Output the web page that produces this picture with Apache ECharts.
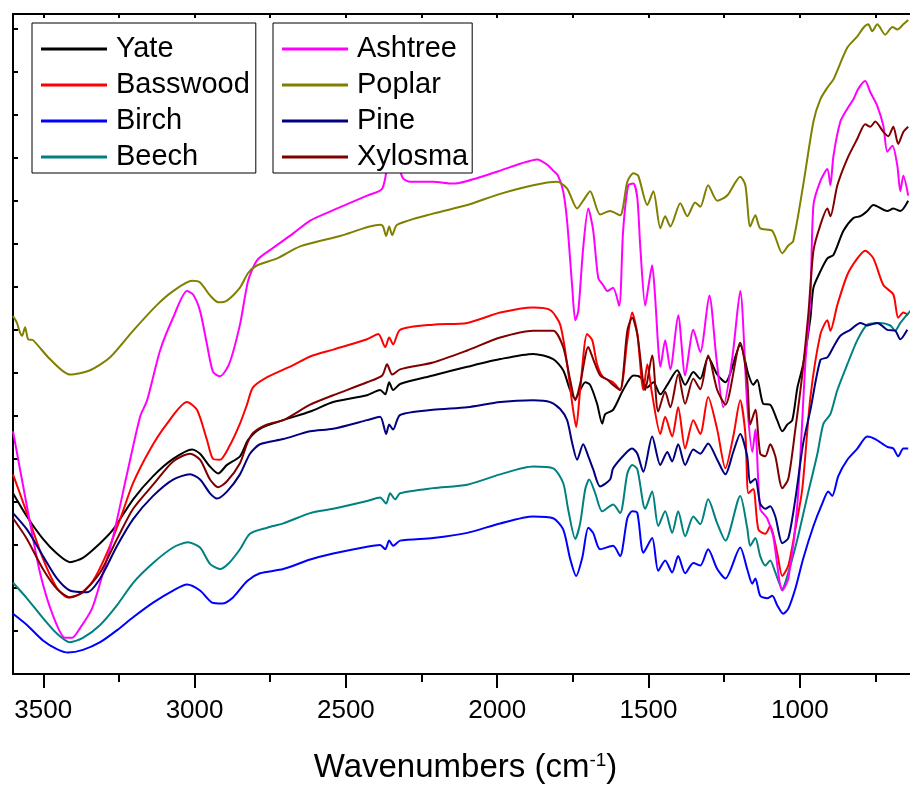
<!DOCTYPE html>
<html><head><meta charset="utf-8">
<script src="https://cdn.jsdelivr.net/npm/echarts@6/dist/echarts.min.js"></script>
<style>html,body{margin:0;padding:0;background:#fff}#c{width:910px;height:789px}</style>
</head><body><div id="c"></div>
<script>
// Wavenumber (cm-1) / transmittance-like values (arbitrary units)
const yate = [[3600,21.0],[3554,18.3],[3501,15.7],[3455,14.0],[3412,13.0],[3369,13.5],[3312,15.2],[3269,16.8],[3203,20.3],[3137,23.0],[3071,25.0],[3008,26.1],[2982,25.6],[2949,24.1],[2922,23.3],[2893,24.3],[2850,25.3],[2823,27.2],[2784,28.5],[2707,29.5],[2618,30.5],[2542,31.6],[2430,32.4],[2387,33.0],[2370,32.5],[2357,33.9],[2344,33.0],[2321,33.7],[2212,34.7],[2099,35.7],[1990,36.6],[1881,37.2],[1815,36.6],[1782,35.3],[1759,33.0],[1742,32.0],[1726,33.0],[1709,33.9],[1693,33.6],[1670,31.4],[1653,29.1],[1643,30.2],[1617,30.7],[1584,33.0],[1550,34.7],[1527,34.5],[1504,33.3],[1484,33.9],[1461,32.5],[1438,33.6],[1405,35.3],[1379,33.6],[1352,35.1],[1329,34.3],[1303,36.8],[1273,34.8],[1246,33.9],[1197,38.2],[1170,34.8],[1154,33.6],[1141,34.2],[1121,31.4],[1098,31.3],[1075,29.5],[1058,28.2],[1041,29.0],[1025,29.5],[1008,33.3],[989,36.0],[965,41.4],[955,44.9],[932,46.8],[909,48.3],[889,48.7],[856,51.5],[823,53.0],[800,53.2],[777,53.8],[757,54.5],[711,53.8],[691,54.1],[668,53.8],[642,55.0]];
const basswood = [[3600,23.2],[3554,18.7],[3501,13.4],[3455,10.0],[3418,8.9],[3379,9.3],[3336,10.8],[3289,14.1],[3246,18.0],[3203,22.2],[3147,26.1],[3091,29.1],[3025,31.6],[2992,30.7],[2959,27.2],[2939,25.0],[2916,24.9],[2886,26.4],[2850,29.1],[2826,31.4],[2807,33.3],[2760,34.5],[2674,35.9],[2618,36.9],[2542,37.7],[2430,38.9],[2393,39.5],[2370,38.0],[2357,39.1],[2344,38.3],[2321,40.0],[2212,40.6],[2099,40.8],[1990,42.0],[1881,42.6],[1825,42.3],[1792,40.6],[1769,36.0],[1752,31.4],[1739,28.7],[1726,33.0],[1703,39.5],[1686,38.8],[1670,36.0],[1650,34.5],[1617,33.9],[1594,33.0],[1570,38.8],[1554,42.0],[1537,39.5],[1517,33.0],[1504,36.0],[1488,32.5],[1461,27.9],[1445,29.9],[1422,27.6],[1402,31.0],[1379,26.2],[1352,29.5],[1329,27.9],[1303,32.2],[1273,28.4],[1246,23.9],[1220,27.6],[1197,31.8],[1180,27.9],[1170,21.0],[1154,21.5],[1137,16.8],[1114,16.3],[1098,17.2],[1075,14.1],[1058,11.4],[1038,12.6],[1015,16.8],[992,21.5],[965,32.2],[932,39.5],[909,41.1],[899,39.9],[876,42.9],[843,46.4],[810,48.3],[784,49.2],[757,48.3],[724,45.2],[691,44.1],[675,41.4],[658,42.0],[642,41.7]];
const birch = [[3600,7.0],[3554,5.7],[3501,3.9],[3455,2.9],[3418,2.5],[3369,2.8],[3312,3.7],[3256,5.1],[3203,6.6],[3137,8.3],[3071,9.7],[3025,10.4],[2982,9.7],[2942,8.3],[2909,8.2],[2873,8.9],[2826,10.8],[2784,11.7],[2707,12.2],[2618,13.3],[2542,14.0],[2430,14.8],[2387,15.0],[2370,14.5],[2357,15.5],[2344,14.9],[2321,15.5],[2212,15.8],[2099,16.4],[1990,17.5],[1881,18.3],[1815,18.1],[1782,16.8],[1759,13.4],[1739,11.4],[1719,13.5],[1699,17.0],[1683,16.4],[1660,14.5],[1617,14.9],[1594,13.7],[1570,18.1],[1554,18.9],[1537,18.7],[1517,14.1],[1488,15.8],[1468,12.0],[1445,13.2],[1422,11.8],[1402,13.7],[1379,11.7],[1352,12.9],[1329,12.6],[1303,14.5],[1273,12.2],[1246,11.1],[1197,14.7],[1174,12.2],[1157,10.5],[1147,11.1],[1131,9.1],[1108,8.8],[1091,9.1],[1075,8.0],[1055,7.0],[1038,7.6],[1015,9.9],[989,13.4],[955,17.2],[926,19.8],[906,21.2],[893,20.7],[873,23.0],[843,24.9],[810,26.2],[777,27.6],[751,27.3],[711,26.4],[691,26.2],[675,25.3],[658,26.2],[642,26.2]];
const beech = [[3600,10.6],[3554,8.8],[3501,6.5],[3455,4.7],[3412,3.7],[3369,4.2],[3312,5.7],[3256,8.0],[3203,10.6],[3137,12.9],[3071,14.7],[3022,15.3],[2982,14.7],[2949,12.8],[2916,12.2],[2886,12.9],[2850,14.5],[2817,16.3],[2760,17.0],[2707,17.5],[2618,18.7],[2542,19.2],[2430,20.1],[2387,20.5],[2367,19.8],[2354,21.0],[2337,20.3],[2321,21.0],[2212,21.6],[2099,22.0],[1990,23.2],[1881,24.1],[1815,23.9],[1782,22.2],[1766,19.2],[1742,15.7],[1726,17.5],[1709,21.5],[1696,22.6],[1676,21.0],[1653,18.9],[1617,19.7],[1594,18.7],[1570,23.3],[1554,24.3],[1537,23.8],[1511,19.2],[1488,21.2],[1468,17.2],[1445,18.9],[1422,16.4],[1402,18.9],[1379,16.0],[1352,18.3],[1329,17.4],[1303,20.3],[1273,17.5],[1246,15.5],[1197,20.7],[1174,17.0],[1164,14.9],[1147,15.8],[1131,13.7],[1114,12.6],[1098,13.2],[1081,11.8],[1058,9.9],[1038,11.8],[1008,15.7],[975,20.7],[942,25.6],[922,29.1],[899,30.2],[876,33.0],[843,36.0],[810,38.8],[777,40.6],[734,40.8],[701,40.5],[685,39.9],[668,40.8],[635,42.2]];
const ashtree = [[3600,28.2],[3554,19.5],[3511,11.8],[3468,6.8],[3428,4.2],[3405,4.2],[3379,5.3],[3339,7.6],[3312,10.6],[3269,16.0],[3223,23.3],[3180,29.9],[3157,31.8],[3114,37.6],[3071,41.4],[3025,44.5],[3005,44.1],[2982,42.2],[2959,38.3],[2939,35.1],[2916,34.6],[2886,36.0],[2850,40.6],[2823,45.7],[2793,48.1],[2741,49.5],[2674,51.2],[2618,52.7],[2542,53.9],[2430,55.6],[2380,56.4],[2357,59.9],[2337,60.1],[2321,58.5],[2311,57.6],[2288,57.2],[2212,57.2],[2146,57.0],[2099,57.3],[1990,58.5],[1924,59.3],[1868,59.8],[1835,59.2],[1815,58.5],[1799,57.9],[1782,56.1],[1769,52.6],[1752,44.9],[1742,41.1],[1732,42.2],[1716,49.5],[1699,54.1],[1683,51.6],[1666,46.0],[1650,45.2],[1636,44.5],[1617,44.9],[1597,42.8],[1584,51.5],[1567,56.8],[1550,57.0],[1537,55.3],[1527,49.5],[1511,42.8],[1501,44.9],[1488,47.5],[1478,43.7],[1468,38.0],[1461,35.7],[1445,38.8],[1428,35.4],[1402,41.7],[1379,34.7],[1352,40.0],[1329,37.4],[1299,44.0],[1276,36.8],[1253,31.0],[1223,36.8],[1197,44.5],[1174,31.4],[1157,25.8],[1147,28.4],[1131,19.2],[1108,18.1],[1088,16.0],[1058,9.7],[1038,11.1],[1008,19.8],[982,36.0],[965,43.7],[955,54.5],[932,57.3],[909,58.7],[899,56.8],[889,60.2],[866,64.2],[843,65.7],[823,66.8],[807,68.0],[784,68.9],[767,67.6],[744,66.0],[724,63.7],[711,60.7],[694,61.4],[678,59.1],[668,56.1],[658,57.9],[642,55.6]];
const poplar = [[3600,41.6],[3587,40.8],[3577,39.7],[3570,39.3],[3560,40.3],[3550,38.9],[3534,38.8],[3478,36.6],[3412,34.8],[3345,35.3],[3279,36.8],[3203,39.9],[3124,42.9],[3071,44.5],[3008,45.7],[2982,45.5],[2949,44.0],[2922,43.2],[2893,43.4],[2850,44.9],[2823,46.6],[2793,47.5],[2727,48.3],[2651,49.7],[2519,50.9],[2387,52.2],[2377,52.0],[2367,50.9],[2357,52.0],[2347,51.0],[2331,52.2],[2212,53.5],[2099,54.5],[1990,55.8],[1881,56.8],[1802,57.2],[1769,56.4],[1736,54.1],[1716,55.0],[1693,56.1],[1660,53.4],[1627,53.8],[1594,53.3],[1570,57.2],[1550,58.2],[1534,57.9],[1504,54.5],[1484,56.1],[1461,51.8],[1445,53.2],[1428,52.0],[1395,54.7],[1372,53.2],[1346,54.8],[1329,54.3],[1303,56.8],[1273,55.0],[1240,55.6],[1197,57.8],[1180,56.8],[1164,52.0],[1147,53.3],[1131,51.8],[1091,51.5],[1058,48.9],[1038,49.8],[1022,50.3],[989,56.8],[955,64.2],[932,66.8],[906,68.3],[889,69.1],[843,72.8],[810,74.1],[790,75.1],[774,75.5],[761,74.7],[744,75.5],[718,74.3],[694,75.2],[678,74.9],[658,75.5],[642,76.0]];
const pine = [[3600,18.7],[3554,16.8],[3501,13.7],[3455,11.1],[3412,9.7],[3355,9.5],[3312,11.1],[3256,14.9],[3203,18.0],[3137,20.7],[3071,22.6],[3015,23.2],[2982,22.6],[2949,21.0],[2926,20.4],[2893,21.2],[2850,23.2],[2817,25.6],[2784,26.7],[2707,27.3],[2618,28.2],[2542,28.5],[2430,29.5],[2387,29.9],[2367,27.9],[2357,29.0],[2344,28.4],[2321,30.1],[2212,30.7],[2099,31.0],[1990,31.6],[1881,31.8],[1825,31.6],[1792,30.8],[1769,29.5],[1752,26.8],[1736,24.9],[1716,26.7],[1699,25.3],[1683,23.8],[1660,21.8],[1627,22.6],[1617,23.9],[1577,25.6],[1554,26.2],[1537,25.6],[1517,23.5],[1488,27.6],[1461,24.3],[1438,25.8],[1422,24.7],[1402,26.7],[1379,24.3],[1352,26.1],[1329,25.6],[1303,26.8],[1273,24.9],[1246,23.2],[1220,25.8],[1197,27.9],[1174,25.3],[1164,22.2],[1147,22.7],[1131,19.8],[1114,19.2],[1098,19.5],[1081,18.3],[1058,15.2],[1038,15.8],[1015,20.3],[989,26.8],[965,30.7],[932,36.5],[909,36.8],[889,38.0],[866,39.3],[833,40.0],[800,40.8],[777,40.5],[744,40.8],[711,40.0],[685,39.9],[668,38.9],[645,40.0]];
const xylosma = [[3600,18.1],[3554,15.7],[3501,12.2],[3455,9.9],[3412,8.9],[3369,9.5],[3312,11.8],[3256,15.7],[3203,19.2],[3137,22.0],[3071,24.7],[3015,25.6],[2982,24.9],[2949,22.6],[2922,21.7],[2893,22.4],[2850,24.5],[2826,26.8],[2807,28.0],[2760,29.0],[2707,29.5],[2618,31.3],[2542,32.4],[2430,33.9],[2380,34.7],[2364,36.0],[2347,34.8],[2321,35.4],[2212,36.2],[2099,37.6],[1990,39.1],[1881,39.9],[1815,39.9],[1782,38.0],[1759,34.2],[1742,31.8],[1726,33.7],[1699,38.0],[1683,36.6],[1660,34.7],[1636,34.2],[1617,33.6],[1594,33.0],[1570,39.9],[1554,41.4],[1537,39.5],[1511,33.0],[1488,37.0],[1468,30.5],[1445,32.8],[1428,31.0],[1402,34.8],[1379,31.4],[1352,34.3],[1329,33.1],[1303,37.0],[1273,33.0],[1246,31.3],[1197,38.5],[1174,34.2],[1164,29.0],[1147,30.7],[1131,25.6],[1114,25.3],[1098,26.7],[1081,25.3],[1058,21.6],[1038,22.7],[1015,28.4],[992,34.8],[972,41.8],[955,49.2],[932,52.2],[909,54.1],[899,53.2],[876,56.8],[843,59.9],[810,62.2],[784,63.9],[767,63.6],[751,64.2],[724,63.0],[708,62.5],[691,63.6],[675,61.6],[658,63.0],[642,63.6]];

const legendLeft = ['Yate', 'Basswood', 'Birch', 'Beech'];
const legendRight = ['Ashtree', 'Poplar', 'Pine', 'Xylosma'];
const majorTicks = [3500, 3000, 2500, 2000, 1500, 1000];
const minorTicks = [3250, 2750, 2250, 1750, 1250, 750];
const topTicks = [3500, 3250, 3000, 2750, 2500, 2250, 2000, 1750, 1500, 1250, 1000, 750];
const yTicks = [5, 10, 15, 20, 25, 30, 35, 40, 45, 50, 55, 60, 65, 70, 75];
const xMin = 636, xMax = 3600;

const FONT = "'Liberation Sans', Arial, sans-serif";
const seriesList = [
  ['Yate', yate, '#000000'],
  ['Basswood', basswood, '#ff0000'],
  ['Birch', birch, '#0000ff'],
  ['Beech', beech, '#008080'],
  ['Ashtree', ashtree, '#ff00ff'],
  ['Poplar', poplar, '#808000'],
  ['Pine', pine, '#000080'],
  ['Xylosma', xylosma, '#800000']
];

const axisLineStyle = { color: '#000', width: 2 };
const legendBase = {
  orient: 'vertical', top: 23, itemWidth: 66, itemHeight: 3, itemGap: 6, icon: 'rect',
  borderColor: '#000', borderWidth: 1, backgroundColor: '#fff',
  textStyle: { fontSize: 29, fontFamily: FONT, color: '#000', lineHeight: 30, padding: [0, 0, 0, 4] },
  selectedMode: false
};
const plainNum = v => String(v);

const chart = echarts.init(document.getElementById('c'), null, { renderer: 'canvas' });
chart.setOption({
  animation: false,
  backgroundColor: '#fff',
  grid: { left: 13, top: 14, right: 0, height: 665 },
  xAxis: [
    {
      type: 'value', position: 'bottom', min: xMin, max: xMax, inverse: true,
      axisLine: { show: true, onZero: false, lineStyle: axisLineStyle },
      axisTick: { show: true, inside: false, length: 14, customValues: majorTicks, lineStyle: axisLineStyle },
      axisLabel: { customValues: majorTicks, formatter: plainNum, fontSize: 26, fontFamily: FONT, color: '#000', margin: 24 },
      splitLine: { show: false },
      name: 'Wavenumbers (cm{sup|-1})', nameLocation: 'middle', nameGap: 77,
      nameTextStyle: {
        fontSize: 33, fontFamily: FONT, color: '#000', padding: [0, 0, 0, 8],
        rich: { sup: { fontSize: 19, fontFamily: FONT, color: '#000', verticalAlign: 'top' } }
      }
    },
    {
      type: 'value', position: 'bottom', min: xMin, max: xMax, inverse: true,
      axisLine: { show: false, onZero: false },
      axisTick: { show: true, inside: false, length: 8, customValues: minorTicks, lineStyle: axisLineStyle },
      axisLabel: { show: false }, splitLine: { show: false }
    },
    {
      type: 'value', position: 'top', min: xMin, max: xMax, inverse: true,
      axisLine: { show: true, onZero: false, lineStyle: axisLineStyle },
      axisTick: { show: true, inside: true, length: 4, customValues: topTicks, lineStyle: axisLineStyle },
      axisLabel: { show: false }, splitLine: { show: false }
    }
  ],
  yAxis: {
    type: 'value', min: 0, max: 76.7,
    axisLine: { show: true, onZero: false, lineStyle: axisLineStyle },
    axisTick: { show: true, inside: true, length: 5, customValues: yTicks, lineStyle: axisLineStyle },
    axisLabel: { show: false }, splitLine: { show: false }
  },
  legend: [
    Object.assign({}, legendBase, { data: legendLeft, left: 32, padding: [11, 6, 1, 9] }),
    Object.assign({}, legendBase, { data: legendRight, left: 273, padding: [11, 4, 1, 9] })
  ],
  series: seriesList.map(([name, data, color]) => ({
    name, type: 'line', data, xAxisIndex: 0, yAxisIndex: 0,
    symbol: 'none', showSymbol: false, smooth: 0.25,
    lineStyle: { color, width: 2 }, itemStyle: { color }
  }))
});
</script>
</body></html>
